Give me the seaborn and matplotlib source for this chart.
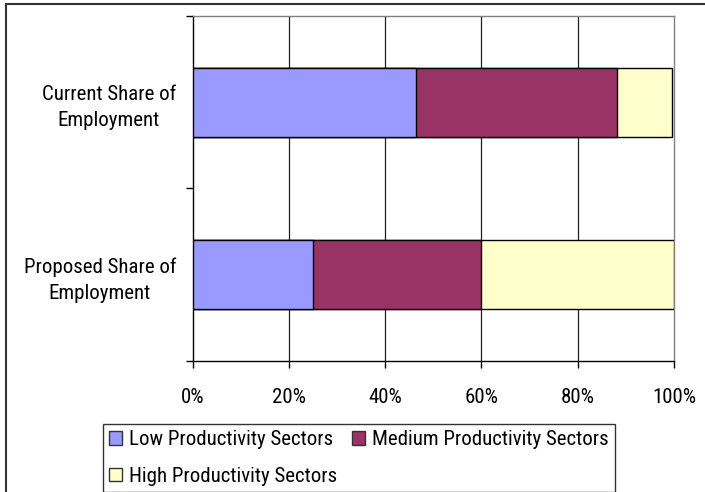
import matplotlib
matplotlib.use("Agg")
import matplotlib.pyplot as plt
from matplotlib.patches import Rectangle, Patch
import pandas as pd
import seaborn as sns

sns.set_theme(style="white")
plt.rcParams["font.family"] = ["Roboto Condensed", "Liberation Sans", "DejaVu Sans"]
plt.rcParams["text.color"] = "black"
plt.rcParams["xtick.color"] = "black"
plt.rcParams["ytick.color"] = "black"

# Data: share of employment by sector productivity (percent)
categories = ["Current Share of\nEmployment", "Proposed Share of\nEmployment"]
low = [46.3, 25.0]
medium = [41.8, 35.0]
high = [11.5, 40.0]
series_names = ["Low Productivity Sectors", "Medium Productivity Sectors", "High Productivity Sectors"]
series_colors = ["#9999FF", "#993366", "#FFFFCC"]
x_ticks = [0, 20, 40, 60, 80, 100]
x_tick_labels = ["0%", "20%", "40%", "60%", "80%", "100%"]

FS = 15

df = pd.DataFrame({"category": categories, "low": low, "medium": medium, "high": high})
df["cum_low"] = df["low"]
df["cum_medium"] = df["low"] + df["medium"]
df["cum_high"] = df["low"] + df["medium"] + df["high"]

fig = plt.figure(figsize=(7.05, 4.92), dpi=100)
ax = fig.add_axes([192.7 / 705, 1 - 361.3 / 492, (674 - 192.7) / 705, (361.3 - 15.7) / 492])

# Stacked bars: draw the running totals from the outermost segment inward
for col, color in zip(["cum_high", "cum_medium", "cum_low"], series_colors[::-1]):
    sns.barplot(data=df, x=col, y="category", orient="h", color=color, width=0.4,
                edgecolor="black", linewidth=1.0, saturation=1, ax=ax, zorder=3)

ax.set_xlim(0, 100)
ax.set_ylim(1.5, -0.5)
ax.set_xlabel("")
ax.set_ylabel("")

# Gridlines at the x ticks
for xv in x_ticks[1:-1]:
    ax.axvline(xv, color="#202020", lw=0.9, zorder=1)

ax.set_xticks(x_ticks)
ax.set_xticklabels(x_tick_labels, fontsize=FS)
ax.tick_params(axis="x", direction="out", length=5, width=1, color="black", pad=14, bottom=True)

ax.set_yticks([0, 1])
ax.set_yticklabels(categories, fontsize=FS, multialignment="center", linespacing=1.45)
ax.tick_params(axis="y", which="major", length=0, pad=12)
ax.set_yticks([-0.5, 0.5, 1.5], minor=True)
ax.tick_params(axis="y", which="minor", direction="out", length=5, width=1, color="black", left=True)

for side in ["left", "bottom"]:
    ax.spines[side].set_color("black")
    ax.spines[side].set_linewidth(1.0)
for side in ["top", "right"]:
    ax.spines[side].set_visible(True)
    ax.spines[side].set_color("#808080")
    ax.spines[side].set_linewidth(1.0)

# Legend
handles = [Patch(facecolor=c, edgecolor="#333333", linewidth=1.0) for c in series_colors]
order = [0, 2, 1]
leg = fig.legend([handles[i] for i in order], [series_names[i] for i in order],
                 ncol=2, loc="upper left",
                 bbox_to_anchor=(103 / 705, 1 - 491 / 492, (615 - 103) / 705, (491 - 424) / 492),
                 mode="expand", fontsize=FS, frameon=True, fancybox=False,
                 edgecolor="black", handlelength=0.6, handleheight=0.6,
                 handletextpad=0.35, columnspacing=1.9, labelspacing=0.85,
                 borderpad=0.3, borderaxespad=0)
leg.get_frame().set_linewidth(1.0)

# Outer chart border
fig.add_artist(Rectangle((5.5 / 705, -0.2), 1.2, 1.2 - 3.5 / 492, transform=fig.transFigure,
                         fill=False, edgecolor="#333333", linewidth=1.5, clip_on=False))

fig.savefig("out.png", dpi=100)
